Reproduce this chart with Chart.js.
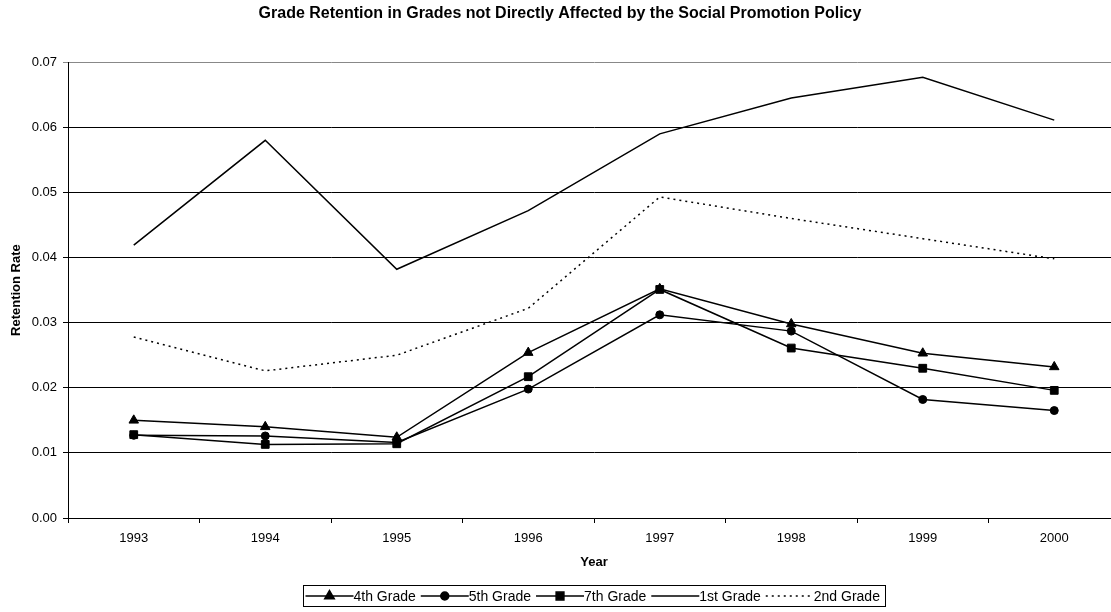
<!DOCTYPE html>
<html>
<head>
<meta charset="utf-8">
<script src="https://cdn.jsdelivr.net/npm/chart.js@4.4.1/dist/chart.umd.min.js"></script>
<style>
  html, body { margin: 0; padding: 0; background: #fff; overflow: hidden; }
  #wrap { width: 1190px; height: 612px; }
</style>
</head>
<body>
<div id="wrap"><canvas id="myChart" width="1190" height="612"></canvas></div>
<script>
const years = ["1993", "1994", "1995", "1996", "1997", "1998", "1999", "2000"];
const yTicks = [0, 0.01, 0.02, 0.03, 0.04, 0.05, 0.06, 0.07];

const grade4 = [0.0150, 0.0140, 0.0124, 0.0254, 0.0352, 0.0298, 0.0253, 0.0232];
const grade5 = [0.0127, 0.0126, 0.0116, 0.0198, 0.0312, 0.0287, 0.0182, 0.0165];
const grade7 = [0.0128, 0.0113, 0.0114, 0.0217, 0.0351, 0.0261, 0.0230, 0.0196];
const grade1 = [0.0419, 0.0580, 0.0382, 0.0472, 0.0590, 0.0645, 0.0677, 0.0611];
const grade2 = [0.0278, 0.0226, 0.0250, 0.0322, 0.0493, 0.0460, 0.0429, 0.0398];

const FONT = "'Liberation Sans', Arial, sans-serif";

// legend drawn in a box below the axis title, line sample with marker
const boxLegend = {
    id: "boxLegend",
    afterDraw(chart) {
        const ctx = chart.ctx;
        const area = chart.chartArea;
        const sample = 48, gap = 5, pad = 2;
        ctx.save();
        ctx.font = "14px " + FONT;
        const items = chart.data.datasets.map(ds => ({ ds, w: ctx.measureText(ds.label).width }));
        let total = pad;
        items.forEach(it => { total += sample + it.w + gap; });
        total += pad - gap + 4;
        const cy = 596;
        let x = Math.round((area.left + area.right) / 2 - total / 2) + 0.5;
        ctx.strokeStyle = "#000";
        ctx.lineWidth = 1;
        ctx.strokeRect(x, 585.5, Math.round(total), 21);
        x += pad;
        items.forEach(it => {
            const ds = it.ds;
            ctx.beginPath();
            ctx.lineWidth = ds.borderWidth;
            ctx.setLineDash(ds.borderDash || []);
            ctx.moveTo(x, cy);
            ctx.lineTo(x + sample, cy);
            ctx.stroke();
            ctx.setLineDash([]);
            if (ds.pointRadius > 0) {
                ctx.fillStyle = "#000";
                Chart.helpers.drawPoint(ctx, {
                    pointStyle: ds.pointStyle, radius: ds.pointRadius,
                    borderWidth: 1, rotation: 0
                }, x + sample / 2, cy);
            }
            ctx.fillStyle = "#000";
            ctx.textBaseline = "middle";
            ctx.textAlign = "left";
            ctx.fillText(ds.label, x + sample, cy + 1);
            x += sample + it.w + gap;
        });
        ctx.restore();
    }
};

function lineSet(label, data, style, radius, dash) {
    return {
        label: label,
        data: data,
        borderColor: "#000",
        backgroundColor: "#000",
        borderWidth: 1.5,
        borderDash: dash || [],
        pointStyle: style,
        pointRadius: radius,
        pointHoverRadius: radius,
        pointBorderColor: "#000",
        pointBackgroundColor: "#000",
        pointBorderWidth: 1,
        tension: 0,
        fill: false
    };
}

const ctx1 = document.getElementById("myChart").getContext("2d");

new Chart(ctx1, {
    type: "line",
    data: {
        labels: years,
        datasets: [
            lineSet("4th Grade", grade4, "triangle", 5.5),
            lineSet("5th Grade", grade5, "circle", 4),
            lineSet("7th Grade", grade7, "rect", 5.5),
            lineSet("1st Grade", grade1, "circle", 0),
            lineSet("2nd Grade", grade2, "circle", 0, [2, 4])
        ]
    },
    options: {
        responsive: false,
        animation: false,
        layout: { padding: { left: 0, right: 70, top: 0, bottom: 42 } },
        plugins: {
            legend: { display: false },
            tooltip: { enabled: false },
            title: {
                display: true,
                text: "Grade Retention in Grades not Directly Affected by the Social Promotion Policy",
                color: "#000",
                font: { family: FONT, size: 16, weight: "bold" },
                padding: { top: 4, bottom: 39 }
            }
        },
        scales: {
            x: {
                offset: true,
                grid: { offset: true, drawOnChartArea: false, color: "#000", tickLength: 5 },
                border: { color: "#000", width: 1 },
                ticks: { color: "#000", font: { family: FONT, size: 13 }, padding: 8, maxRotation: 0 },
                title: { display: true, text: "Year", color: "#000", font: { family: FONT, size: 13, weight: "bold" }, padding: { top: 2, bottom: 0 } },
                afterFit: s => { s.height = 52; }
            },
            y: {
                min: 0,
                max: 0.07,
                afterBuildTicks: s => { s.ticks = yTicks.map(v => ({ value: v })); },
                grid: {
                    color: c => (c.tick && c.tick.value === 0.07 ? "#888" : "#000"),
                    tickLength: 5
                },
                border: { color: "#000", width: 1 },
                ticks: { color: "#000", font: { family: FONT, size: 13 }, padding: 6, callback: v => v.toFixed(2) },
                title: { display: true, text: "Retention Rate", color: "#000", font: { family: FONT, size: 13, weight: "bold" }, padding: { top: 9, bottom: 0 } },
                afterFit: s => { s.width = 68; }
            }
        }
    },
    plugins: [boxLegend]
});
</script>
</body>
</html>
